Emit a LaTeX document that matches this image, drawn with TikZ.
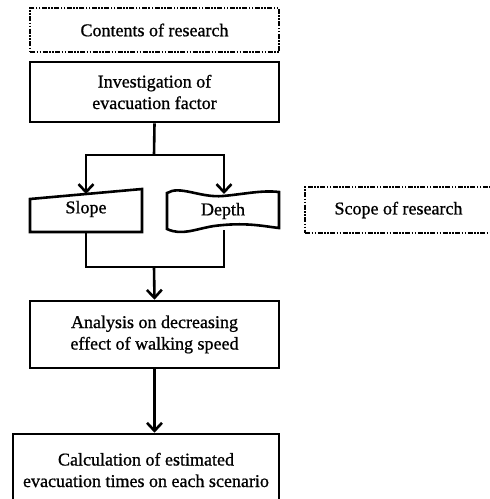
\documentclass[tikz,border=0pt]{standalone}
\usepackage{fontspec}
\setmainfont{Liberation Serif}[FakeBold=0.9]
\usetikzlibrary{arrows.meta}
\begin{document}
\begin{tikzpicture}[x=1pt,y=-1pt,
    font=\fontsize{18}{21.5}\selectfont,
    box/.style={draw,line width=2.6pt,align=center,inner sep=0pt},
    dotbox/.style={draw,line width=2pt,dash pattern=on 5pt off 1.5pt on 1.5pt off 1.5pt on 1.5pt off 1.5pt,align=center,inner sep=0pt},
    link/.style={line width=2.6pt},
    arr/.style={link,-{Straight Barb[length=8pt,width=15pt,line width=2.6pt]}}]
            \clip (0,0) rectangle (490,499);

            \node[dotbox,minimum width=249pt,minimum height=44pt] (contents) at (154.5,30) {Contents of research};
            \node[box,minimum width=249pt,minimum height=60pt] (invest) at (154.5,92) {Investigation of\\evacuation factor};
            \node[dotbox,minimum width=187pt,minimum height=46pt] (scope) at (398.5,210) {Scope of research};
            \node[box,minimum width=249pt,minimum height=67pt] (analysis) at (154.5,334.5) {Analysis on decreasing\\effect of walking speed};
            \node[box,minimum width=266pt,minimum height=72pt] (calc) at (146,470) {Calculation of estimated\\evacuation times on each scenario};

            \node (slope) at (86,209) {Slope};
            \node (depth) at (223,211) {Depth};

            \coordinate (slopetop) at (86,194);
            \coordinate (slopebot) at (86,232);
            \coordinate (depthtop) at (224,194);
            \coordinate (depthbot) at (224,230);
            \coordinate (split) at (154,155);
            \coordinate (merge) at (154,267);

            \draw[link] (30,199) -- (142,189) -- (142,232) -- (30,232) -- cycle;
            \draw[link] (167,193) .. controls (180,185) and (200,198) .. (223,196)
                .. controls (245,194) and (262,190) .. (279,192) -- (279,228)
                .. controls (262,226) and (245,222) .. (214,226)
                .. controls (195,229) and (182,236) .. (167,229) -- cycle;

            \draw[link] (invest.south) -- (split);
            \foreach \t in {slopetop,depthtop} {
                \draw[arr] (split) -| (\t);
            }
            \foreach \b in {slopebot,depthbot} {
                \draw[link] (\b) |- (merge);
            }
            \draw[arr] (merge) -- (analysis.north);
            \draw[arr] (analysis.south) -- (analysis.south |- calc.north);
        \end{tikzpicture}
\end{document}
